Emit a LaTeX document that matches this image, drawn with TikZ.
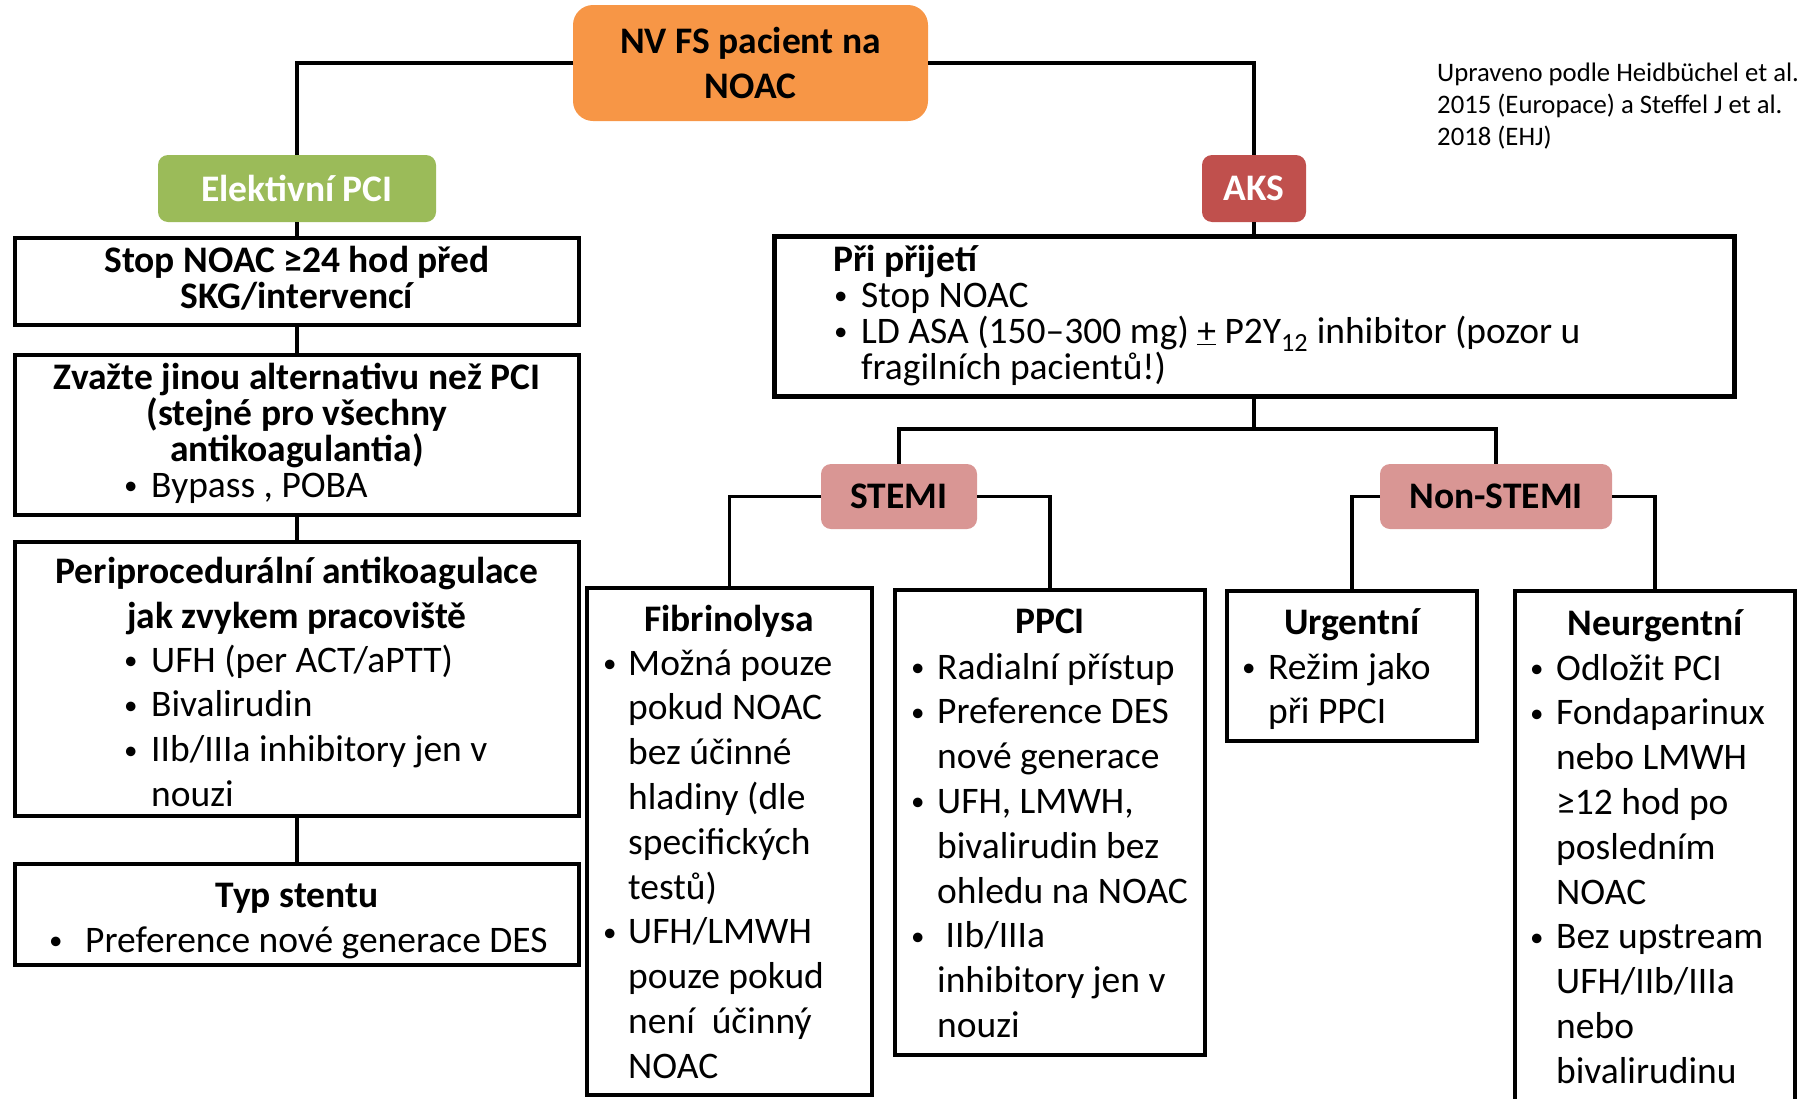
\documentclass[tikz,border=0pt]{standalone}
\usepackage{fontspec}
\setmainfont{Carlito}
\usepackage{array}
\definecolor{noacorange}{RGB}{247, 150, 70}
\definecolor{electgreen}{RGB}{155, 187, 89}
\definecolor{aksred}{RGB}{192, 80, 77}
\definecolor{stemipink}{RGB}{217, 150, 148}

\newcommand{\ctab}[1]{\begin{tabular}[t]{@{}c@{}}#1\end{tabular}}
\newcommand{\ltab}[1]{\begin{tabular}[t]{@{}l@{}}#1\end{tabular}}
\newcommand{\btab}[2]{\begin{tabular}[t]{@{}w{l}{#1}@{}l@{}}#2\end{tabular}}
\newcommand{\bu}{\raisebox{2.5pt}{\fontsize{27}{27}\selectfont •}}

\tikzset{
    pill/.style={rounded corners=10pt, inner sep=0pt, outer sep=0pt, anchor=north west,
        font=\fontsize{37.5}{45}\selectfont\bfseries},
    frame/.style={draw, line width=3.2pt, inner sep=0pt, outer sep=0pt, anchor=north west},
    txt/.style={inner sep=0pt, anchor=base west, font=\fontsize{37.5}{44.8}\selectfont},
    head/.style={inner sep=0pt, anchor=base, font=\fontsize{37.5}{36}\selectfont\bfseries},
    link/.style={line width=3.2pt}
}

\begin{document}
\begin{tikzpicture}[x=1pt, y=-1pt]

    \useasboundingbox (0, 0) rectangle (1798, 1098);

    % coloured labels
    \node[pill, fill=noacorange, rounded corners=20pt, align=center,
        minimum width=355pt, minimum height=116pt] (patient) at (573, 5)
        {NV FS pacient na\\NOAC};
    \node[pill, fill=electgreen, text=white, minimum width=278pt, minimum height=67pt]
        (elective) at (158, 155) {Elektivní PCI};
    \node[pill, fill=aksred, text=white, minimum width=104pt, minimum height=67pt]
        (aks) at (1202, 155) {AKS};
    \node[pill, fill=stemipink, minimum width=156pt, minimum height=65pt]
        (stemi) at (821, 464) {STEMI};
    \node[pill, fill=stemipink, minimum width=232pt, minimum height=65pt]
        (nstemi) at (1380, 464) {Non-STEMI};

    % elective branch
    \node[frame, minimum width=564pt, minimum height=87pt] (stopbox) at (15, 238) {};
    \node[frame, minimum width=564pt, minimum height=160pt] (altbox) at (15, 355) {};
    \node[frame, minimum width=564pt, minimum height=274pt] (peribox) at (15, 542) {};
    \node[frame, minimum width=564pt, minimum height=101pt] (stentbox) at (15, 864) {};

    \node[head] (stoptxt) at (297, 272)
        {\ctab{\smash{Stop NOAC ≥24 hod před}\\\smash{SKG/intervencí}}};
    \node[head, font=\fontsize{37.5}{36}\selectfont\bfseries] (alttxt) at (297, 389)
        {\ctab{\smash{Zvažte jinou alternativu než PCI}\\\smash{(stejné pro všechny}\\\smash{antikoagulantia)}}};
    \node[txt, font=\fontsize{37.5}{36}\selectfont] (altlist) at (124, 497)
        {\btab{27pt}{\bu & Bypass , POBA}};
    \node[head, font=\fontsize{37.5}{45}\selectfont\bfseries] (peritxt) at (297, 583)
        {\ctab{Periprocedurální antikoagulace\\jak zvykem pracoviště}};
    \node[txt] (perilist) at (124, 672) {\btab{27pt}{%
        \bu & UFH (per ACT/aPTT)\\
        \bu & Bivalirudin\\
        \bu & IIb/IIIa inhibitory jen v\\
            & nouzi}};
    \node[head] (stenttxt) at (297, 907) {Typ stentu};
    \node[txt] (stentlist) at (49, 952) {\btab{36pt}{\bu & Preference nové generace DES}};

    % acute branch
    \node[frame, line width=5pt, minimum width=960pt, minimum height=160pt] (admit) at (774, 236) {};
    \node[head, anchor=base west] (admittxt) at (833, 271) {Při přijetí};
    \node[txt, font=\fontsize{37.5}{36.2}\selectfont] (admitlist) at (834, 307) {\btab{27pt}{%
        \bu & \smash{Stop NOAC}\\
        \bu & \smash{LD ASA (150–300 mg) \underline{+} P2Y\textsubscript{12} inhibitor (pozor u}\\
            & \smash{fragilních pacientů!)}}};

    \node[frame, minimum width=285pt, minimum height=507pt] (fibr) at (587, 588) {};
    \node[frame, minimum width=310pt, minimum height=465pt] (ppci) at (895, 590) {};
    \node[frame, minimum width=250pt, minimum height=150pt] (urgent) at (1227, 591) {};
    \node[frame, minimum width=280pt, minimum height=530pt] (nonurgent) at (1515, 591) {};

    \node[head] (fibrtxt) at (729, 631) {Fibrinolysa};
    \node[txt] (fibrlist) at (603, 675) {\btab{25pt}{%
        \bu & Možná pouze\\
            & pokud NOAC\\
            & bez účinné\\
            & hladiny (dle\\
            & specifických\\
            & testů)\\
        \bu & UFH/LMWH\\
            & pouze pokud\\
            & není~ účinný\\
            & NOAC}};

    \node[head] (ppcitxt) at (1050, 633) {PPCI};
    \node[txt] (ppcilist) at (911, 679) {\btab{26pt}{%
        \bu & Radialní přístup\\
        \bu & Preference DES\\
            & nové generace\\
        \bu & UFH, LMWH,\\
            & bivalirudin bez\\
            & ohledu na NOAC\\
        \bu & ~IIb/IIIa\\
            & inhibitory jen v\\
            & nouzi}};

    \node[head] (urgenttxt) at (1352, 634) {Urgentní};
    \node[txt] (urgentlist) at (1242, 679) {\btab{26pt}{%
        \bu & Režim jako\\
            & při PPCI}};

    \node[head] (nonurgenttxt) at (1655, 635) {Neurgentní};
    \node[txt] (nonurgentlist) at (1530, 680) {\btab{26pt}{%
        \bu & Odložit PCI\\
        \bu & Fondaparinux\\
            & nebo LMWH\\
            & ≥12 hod po\\
            & posledním\\
            & NOAC\\
        \bu & Bez upstream\\
            & UFH/IIb/IIIa\\
            & nebo\\
            & bivalirudinu}};

    \node[txt, font=\fontsize{26.7}{32}\selectfont] (source) at (1437, 81)
        {\ltab{Upraveno podle Heidbüchel et al.\\2015 (Europace) a Steffel J et al.\\2018 (EHJ)}};

    % connectors
    \draw[link] (patient.west) -| (elective.north);
    \draw[link] (patient.east) -| (aks.north);
    \draw[link] (elective.south) -- (stopbox.north);
    \draw[link] (stopbox.south) -- (altbox.north);
    \draw[link] (altbox.south) -- (peribox.north);
    \draw[link] (peribox.south) -- (stentbox.north);
    \draw[link] (aks.south) -- (admit.north);
    \coordinate (split) at (1254, 429);
    \draw[link] (admit.south) -- (split);
    \draw[link] (stemi.north) |- (split) -| (nstemi.north);
    \draw[link] (stemi.west) -| (fibr.north);
    \draw[link] (stemi.east) -| (ppci.north);
    \draw[link] (nstemi.west) -| (urgent.north);
    \draw[link] (nstemi.east) -| (nonurgent.north);

\end{tikzpicture}
\end{document}
